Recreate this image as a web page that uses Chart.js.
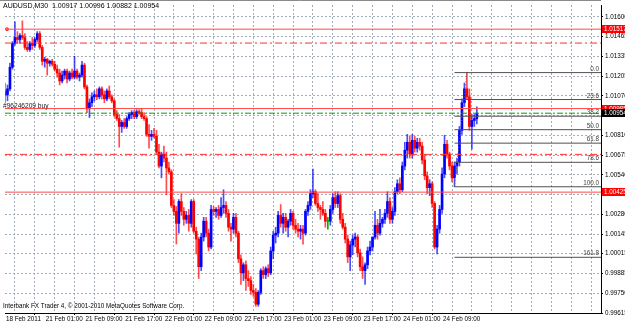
<!DOCTYPE html>
<html>
<head>
<meta charset="utf-8">
<script src="https://cdn.jsdelivr.net/npm/chart.js@4.4.1/dist/chart.umd.min.js"></script>
<style>
html,body{margin:0;padding:0;background:#fff;}
#wrap{width:625px;height:324px;}
</style>
</head>
<body>
<div id="wrap"><canvas id="chart" width="625" height="324"></canvas></div>
<script>
// AUDUSD M30 - MT4 style candles, one slot per 30 min bar
const TITLE = "AUDUSD,M30  1.00917 1.00996 1.00882 1.00954";
const COPYRIGHT = "Interbank FX Trader 4, \u00a9 2001-2010 MetaQuotes Software Corp.";

const opens = [
1.01103,1.01077,1.01117,1.01262,1.01421,1.01461,1.01448,1.01474,1.01461,1.01395,
1.01381,1.01421,1.01408,1.01448,1.01487,1.01395,1.01302,1.01315,1.01289,1.01302,
1.01282,1.01249,1.01223,1.01170,1.01209,1.01236,1.01183,1.01223,1.01196,1.01236,
1.01196,1.01209,1.01276,1.01130,1.00984,1.01024,1.01064,1.01077,1.01064,1.01117,
1.01077,1.01050,1.01103,1.01064,1.01037,1.00945,1.00918,1.00865,1.00892,1.00865,
1.00918,1.00945,1.00958,1.00931,1.00964,1.00958,1.00931,1.00918,1.00812,1.00799,
1.00812,1.00799,1.00693,1.00600,1.00680,1.00653,1.00587,1.00561,1.00336,1.00296,
1.00216,1.00362,1.00296,1.00243,1.00269,1.00216,1.00362,1.00163,1.00110,0.99925,
1.00124,1.00230,1.00150,1.00057,1.00309,1.00296,1.00309,1.00269,1.00322,1.00336,
1.00283,1.00190,1.00177,1.00256,1.00150,0.99978,0.99885,0.99938,0.99846,0.99832,
0.99766,0.99753,0.99674,0.99753,0.99899,0.99872,0.99912,0.99885,1.00031,1.00137,
1.00150,1.00269,1.00216,1.00256,1.00190,1.00230,1.00283,1.00203,1.00177,1.00163,
1.00177,1.00150,1.00296,1.00336,1.00415,1.00428,1.00349,1.00322,1.00309,1.00283,
1.00230,1.00230,1.00309,1.00388,1.00349,1.00402,1.00243,1.00190,1.00110,0.99991,
1.00071,1.00110,1.00124,1.00018,0.99925,0.99899,0.99938,1.00031,1.00057,1.00124,
1.00203,1.00150,1.00216,1.00243,1.00283,1.00362,1.00243,1.00296,1.00428,1.00481,
1.00441,1.00600,1.00706,1.00759,1.00680,1.00772,1.00719,1.00759,1.00733,1.00640,
1.00534,1.00455,1.00481,1.00349,1.00057,1.00177,1.00309,1.00547,1.00746,1.00680,
1.00600,1.00521,1.00600,1.00627,1.00839,1.01024,1.01117,1.01064,1.00865,1.00905,
1.00917];
const highs = [
1.01156,1.01143,1.01289,1.01434,1.01567,1.01501,1.01487,1.01573,1.01487,1.01434,
1.01434,1.01461,1.01461,1.01501,1.01501,1.01408,1.01329,1.01322,1.01309,1.01315,
1.01302,1.01276,1.01249,1.01236,1.01249,1.01249,1.01236,1.01249,1.01335,1.01249,
1.01223,1.01302,1.01289,1.01143,1.01050,1.01090,1.01103,1.01117,1.01130,1.01130,
1.01103,1.01117,1.01137,1.01077,1.01050,1.00971,1.00945,1.00905,1.00918,1.00931,
1.00958,1.00971,1.00971,1.00978,1.00978,1.00984,1.00958,1.00931,1.00878,1.00839,
1.00852,1.00839,1.00746,1.00693,1.00733,1.00693,1.00627,1.00574,1.00375,1.00329,
1.00375,1.00415,1.00322,1.00296,1.00309,1.00375,1.00375,1.00190,1.00124,1.00150,
1.00256,1.00256,1.00177,1.00336,1.00329,1.00322,1.00336,1.00388,1.00441,1.00362,
1.00309,1.00216,1.00283,1.00283,1.00163,1.00005,0.99952,0.99965,0.99899,0.99859,
0.99806,0.99779,0.99766,0.99912,0.99925,0.99925,0.99938,1.00057,1.00163,1.00190,
1.00296,1.00342,1.00283,1.00283,1.00243,1.00309,1.00296,1.00243,1.00216,1.00203,
1.00203,1.00309,1.00362,1.00441,1.00580,1.00441,1.00415,1.00336,1.00362,1.00309,
1.00256,1.00336,1.00415,1.00428,1.00428,1.00415,1.00283,1.00216,1.00137,1.00097,
1.00137,1.00150,1.00137,1.00044,0.99991,0.99952,1.00057,1.00097,1.00124,1.00296,
1.00243,1.00309,1.00256,1.00309,1.00428,1.00388,1.00322,1.00455,1.00508,1.00521,
1.00627,1.00759,1.00812,1.00799,1.00812,1.00799,1.00786,1.00786,1.00759,1.00680,
1.00561,1.00508,1.00494,1.00362,1.00203,1.00336,1.00587,1.00806,1.00772,1.00693,
1.00627,1.00627,1.00653,1.00865,1.01050,1.01156,1.01226,1.01117,1.00945,1.00945,
1.00996];
const lows = [
1.01024,1.01037,1.01103,1.01249,1.01408,1.01421,1.01421,1.01448,1.01381,1.01368,
1.01368,1.01381,1.01395,1.01434,1.01381,1.01276,1.01262,1.01209,1.01269,1.01269,
1.01236,1.01196,1.01143,1.01156,1.01183,1.01156,1.01170,1.01183,1.01183,1.01183,
1.01170,1.01196,1.01117,1.00958,1.00925,1.00998,1.01037,1.01044,1.01050,1.01050,
1.01024,1.01037,1.01050,1.01024,1.00931,1.00905,1.00726,1.00825,1.00852,1.00852,
1.00905,1.00918,1.00918,1.00918,1.00945,1.00918,1.00905,1.00799,1.00719,1.00772,
1.00786,1.00680,1.00587,1.00521,1.00627,1.00408,1.00547,1.00322,1.00269,1.00077,
1.00150,1.00269,1.00203,1.00216,1.00163,1.00190,1.00150,1.00011,0.99846,0.99899,
1.00097,1.00124,1.00031,1.00044,1.00269,1.00256,1.00243,1.00256,1.00283,1.00256,
1.00163,1.00097,1.00150,1.00124,0.99952,0.99806,0.99832,0.99766,0.99793,0.99740,
0.99726,0.99660,0.99660,0.99740,0.99846,0.99846,0.99859,0.99872,0.99978,1.00084,
1.00124,1.00190,1.00150,1.00163,1.00124,1.00203,1.00177,1.00150,1.00124,1.00110,
1.00077,1.00137,1.00269,1.00309,1.00388,1.00336,1.00296,1.00243,1.00269,1.00190,
1.00177,1.00203,1.00283,1.00322,1.00322,1.00216,1.00177,1.00084,0.99952,0.99899,
1.00005,1.00057,0.99991,0.99899,0.99846,0.99806,0.99912,1.00005,1.00031,1.00110,
1.00110,1.00137,1.00190,1.00216,1.00256,1.00216,1.00216,1.00269,1.00415,1.00415,
1.00428,1.00574,1.00653,1.00653,1.00653,1.00693,1.00693,1.00706,1.00614,1.00508,
1.00415,1.00402,1.00322,1.00044,1.00011,1.00150,1.00283,1.00521,1.00653,1.00574,
1.00494,1.00461,1.00547,1.00600,1.00812,1.00998,1.01050,1.00839,1.00713,1.00865,
1.00882];
const closes = [
1.01077,1.01117,1.01262,1.01421,1.01461,1.01448,1.01474,1.01461,1.01395,1.01381,
1.01421,1.01408,1.01448,1.01487,1.01395,1.01302,1.01315,1.01289,1.01302,1.01282,
1.01249,1.01223,1.01170,1.01209,1.01236,1.01183,1.01223,1.01196,1.01236,1.01196,
1.01209,1.01276,1.01130,1.00984,1.01024,1.01064,1.01077,1.01064,1.01117,1.01077,
1.01050,1.01103,1.01064,1.01037,1.00945,1.00918,1.00865,1.00892,1.00865,1.00918,
1.00945,1.00958,1.00931,1.00964,1.00958,1.00931,1.00918,1.00812,1.00799,1.00812,
1.00799,1.00693,1.00600,1.00680,1.00653,1.00587,1.00561,1.00336,1.00296,1.00216,
1.00362,1.00296,1.00243,1.00269,1.00216,1.00362,1.00163,1.00110,0.99925,1.00124,
1.00230,1.00150,1.00057,1.00309,1.00296,1.00309,1.00269,1.00322,1.00336,1.00283,
1.00190,1.00177,1.00256,1.00150,0.99978,0.99885,0.99938,0.99846,0.99832,0.99766,
0.99753,0.99674,0.99753,0.99899,0.99872,0.99912,0.99885,1.00031,1.00137,1.00150,
1.00269,1.00216,1.00256,1.00190,1.00230,1.00283,1.00203,1.00177,1.00163,1.00177,
1.00150,1.00296,1.00336,1.00415,1.00428,1.00349,1.00322,1.00309,1.00283,1.00230,
1.00230,1.00309,1.00388,1.00349,1.00402,1.00243,1.00190,1.00110,0.99991,1.00071,
1.00110,1.00124,1.00018,0.99925,0.99899,0.99938,1.00031,1.00057,1.00124,1.00203,
1.00150,1.00216,1.00243,1.00283,1.00362,1.00243,1.00296,1.00428,1.00481,1.00441,
1.00600,1.00706,1.00759,1.00680,1.00772,1.00719,1.00759,1.00733,1.00640,1.00534,
1.00455,1.00481,1.00349,1.00057,1.00177,1.00309,1.00547,1.00746,1.00680,1.00600,
1.00521,1.00600,1.00627,1.00839,1.01024,1.01117,1.01064,1.00865,1.00905,1.00918,
1.00954];

// time axis: a label every 16 bars (8 hours), grid every 8 bars
const xTickLabels = ["18 Feb 2011","21 Feb 01:00","21 Feb 09:00","21 Feb 17:00","22 Feb 01:00","22 Feb 09:00",
  "22 Feb 17:00","23 Feb 01:00","23 Feb 09:00","23 Feb 17:00","24 Feb 01:00","24 Feb 09:00"];
const SLOTS = 240;

// price axis labels top to bottom
const yTickLabels = ["1.01600","1.01465","1.01335","1.01205","1.01070","1.00945","1.00810","1.00675",
  "1.00540","1.00410","1.00280","1.00145","1.00015","0.99885","0.99750","0.99615"];
const Y_TOP = 1.01600, Y_BOTTOM = 0.99615, Y_MAX = 1.01679;

// chart objects
const hLines = [1.01517, 1.00985, 1.00425];
const hDashLines = [1.01424, 1.00678];
const orderPrice = 1.00954;
const orderText = "#96246209 buy";
const fibLevels = [0, 23.6, 38.2, 50, 61.8, 78.6, 100, 161.8];
const fibHigh = 1.01226, fibLow = 1.00461, fibLowBar = 181, fibHighBar = 186;
const priceTags = [
  {v: 1.01517, text: "1.01517", bg: "#ff0000"},
  {v: 1.00985, text: "1.00985", bg: "#ff0000"},
  {v: 1.00425, text: "1.00425", bg: "#ff0000"},
  {v: 1.00954, text: "1.00954", bg: "#000000"}
];

const FONT = '"Liberation Sans", Arial, sans-serif';
Chart.defaults.font.family = FONT;
Chart.defaults.font.size = 6.3;
Chart.defaults.color = "#000";

const UP = "#0000ff", DN = "#ff0000", FLAT = "#00b000";
const candleCol = closes.map(function(c,i){ return c>opens[i]?UP:(c<opens[i]?DN:FLAT); });
const wickCol = candleCol.map(function(c){ return c===UP?"rgba(0,0,255,0.7)":c===DN?"rgba(255,0,0,0.7)":FLAT; });

const yStep = (Y_TOP-Y_BOTTOM)/(yTickLabels.length-1);
const yTickVals = yTickLabels.map(function(_,k){ return Y_TOP-k*yStep; });
const xTickVals = [];
for(let i=0;i<=SLOTS;i+=8) xTickVals.push(i);
function xLabel(v){ return (v%16===0 && v/16<xTickLabels.length) ? xTickLabels[v/16] : ""; }

function hline(v,color,dash,from,to){
  return {type:"line",data:[{x:from,y:v},{x:to,y:v}],borderColor:color,borderWidth:1,
    borderDash:dash,pointRadius:0,order:0};
}
const lineSets = [];
hLines.forEach(function(v){ lineSets.push(hline(v,"#ff4848",[],0,SLOTS)); });
hDashLines.forEach(function(v){ lineSets.push(hline(v,"#ff3030",[7,3,2,3],0,SLOTS)); });
lineSets.push(hline(orderPrice,"#00a000",[6,2,2,2],0,SLOTS));
const fibVals = fibLevels.map(function(p){ return fibHigh-(fibHigh-fibLow)*p/100; });
fibVals.forEach(function(v){ lineSets.push(hline(v,"#505050",[],fibLowBar,SLOTS)); });
lineSets.push({type:"line",data:[{x:fibLowBar,y:fibLow},{x:fibHighBar,y:fibHigh}],borderColor:"#606060",
  borderWidth:1,borderDash:[1,2],pointRadius:0,order:0});
lineSets.push({type:"line",data:[{x:0.8,y:hLines[0]}],showLine:false,pointStyle:"rect",pointRadius:1.6,
  borderColor:"#ff0000",backgroundColor:"#ffffff",borderWidth:1,order:0});

const decor = {
  id:"decor",
  afterDraw(chart){
    const ctx=chart.ctx, y=chart.scales.y, a=chart.chartArea;
    ctx.save();
    ctx.strokeStyle="#8a8a8a"; ctx.lineWidth=1;
    ctx.beginPath(); ctx.moveTo(0,0.5); ctx.lineTo(a.right,0.5); ctx.stroke();
    ctx.fillStyle="#000"; ctx.textBaseline="middle"; ctx.textAlign="left";
    ctx.font="7px "+FONT;
    ctx.fillText(TITLE,3,6);
    ctx.font="6.3px "+FONT;
    ctx.fillText(COPYRIGHT,3,306.5);
    ctx.textBaseline="alphabetic";
    ctx.fillStyle="#202020";
    ctx.font="6.6px "+FONT;
    ctx.fillText(orderText,3,y.getPixelForValue(hLines[1])-1);
    ctx.font="6.3px "+FONT;
    ctx.textAlign="right"; ctx.fillStyle="#404040";
    fibLevels.forEach(function(p,i){
      ctx.fillText(p.toFixed(1),a.right-2,y.getPixelForValue(fibVals[i])-2);
    });
    ctx.textAlign="left"; ctx.textBaseline="middle";
    priceTags.forEach(function(t){
      const py=Math.round(y.getPixelForValue(t.v));
      ctx.fillStyle=t.bg; ctx.fillRect(a.right+1,py-4,625-a.right-1,8);
      ctx.fillStyle="#fff"; ctx.fillText(t.text,a.right+3,py+0.5);
    });
    ctx.restore();
  }
};

new Chart(document.getElementById("chart"),{
  type:"bar",
  data:{datasets:[
    {type:"bar",data:lows.map(function(l,i){return {x:i,y:[l,highs[i]]};}),backgroundColor:wickCol,
      barThickness:1,grouped:false,order:3},
    {type:"bar",data:opens.map(function(o,i){return {x:i,y:[o,closes[i]]};}),backgroundColor:candleCol,
      barThickness:2,minBarLength:1,grouped:false,order:2}
  ].concat(lineSets)},
  options:{
    responsive:false,animation:false,
    layout:{padding:{top:1,left:1,right:0,bottom:0}},
    plugins:{legend:{display:false},tooltip:{enabled:false}},
    scales:{
      x:{type:"linear",position:"bottom",min:0,max:SLOTS,offset:false,
        afterBuildTicks:function(s){ s.ticks=xTickVals.map(function(v){return {value:v};}); },
        afterFit:function(s){ s.height=11; s.paddingLeft=0; s.paddingRight=0; },
        ticks:{autoSkip:false,maxRotation:0,align:"start",padding:0,labelOffset:1,
          callback:function(v){ return xLabel(v); }},
        grid:{color:"#a2abb8",tickLength:2,
          tickColor:function(c){ return (c.tick && xLabel(c.tick.value)!=="") ? "#000" : "rgba(0,0,0,0)"; }},
        border:{color:"#000",width:1,dash:[2,2]}
      },
      y:{type:"linear",position:"right",min:Y_BOTTOM,max:Y_MAX,
        afterBuildTicks:function(s){ s.ticks=yTickVals.slice().reverse().map(function(v){return {value:v};}); },
        afterFit:function(s){ s.width=24; s.paddingTop=0; s.paddingBottom=0; },
        ticks:{padding:2,callback:function(v,i){ return yTickLabels[yTickLabels.length-1-i]; }},
        grid:{color:"#a2abb8",tickLength:2,tickColor:"#000"},
        border:{color:"#000",width:1,dash:[2,2]}
      }
    }
  },
  plugins:[decor]
});
</script>
</body>
</html>
